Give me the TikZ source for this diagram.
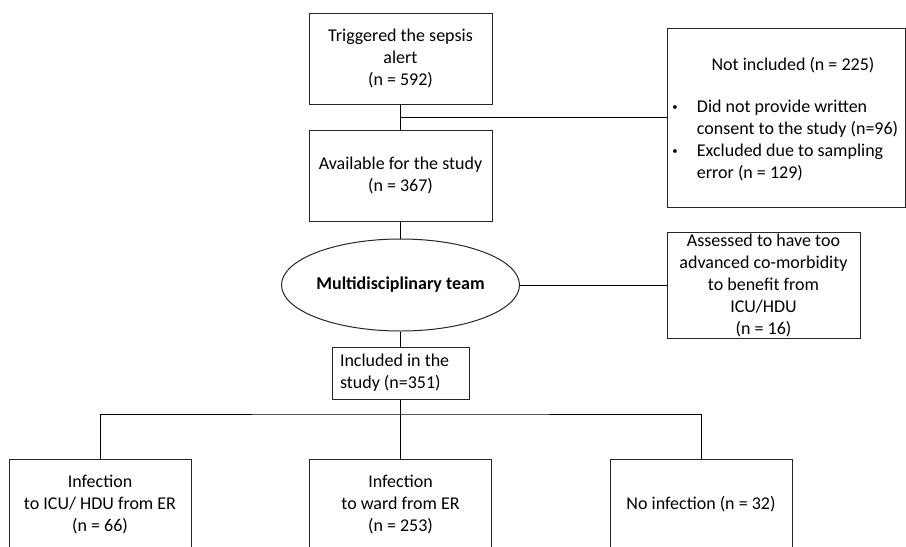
\documentclass[tikz,border=0pt]{standalone}
\usepackage{fontspec}
\setmainfont{Carlito}
\usepackage{tikz}
\usetikzlibrary{shapes.geometric}

\newcommand{\punto}{\raisebox{1.3pt}{\footnotesize\textbullet}}

\begin{document}
\begin{tikzpicture}[x=0.75pt, y=-0.75pt,
    caja/.style={draw=black!85, line width=0.75pt, align=center, inner sep=0pt,
        font=\fontsize{13.5}{16.5}\selectfont},
    elipse/.style={ellipse, draw=black!85, line width=0.75pt, inner sep=0pt,
        font=\fontsize{13.5}{16.5}\selectfont\bfseries},
    texto/.style={inner sep=0pt, font=\fontsize{13.5}{16.5}\selectfont},
    linea/.style={line width=0.75pt}]

    % Marco
    \useasboundingbox (0,0) rectangle (906,546);
    \clip (0,0) rectangle (906,546);

    % Flujo principal
    \node[caja, minimum width=137.25pt, minimum height=68.25pt] (alerta) at (400.5,58.5)
        {Triggered the sepsis\\alert\\(n = 592)};
    \node[caja, minimum width=137.25pt, minimum height=68.25pt] (disponible) at (400.5,175.5)
        {Available for the study\\(n = 367)};
    \node[elipse, minimum width=154.5pt, minimum height=69pt] (equipo) at (400.5,285)
        {Multidisciplinary team};
    \node[caja, minimum width=102.75pt, minimum height=39pt, text width=90.75pt, align=flush left] (incluidos) at (400.5,373)
        {Included in the\\study (n=351)};

    % Exclusiones
    \node[caja, minimum width=178.5pt, minimum height=134.25pt] (noincluidos) at (786,117.5) {};
    \node[texto] (titulo) at (793,65) {Not included (n = 225)};
    \node[texto, anchor=north west, align=left] (motivos) at (672,97) {%
        \begin{tabular}{@{}p{18.5pt}@{}l@{}}
            \punto & Did not provide written\\
                   & consent to the study (n=96)\\
            \punto & Excluded due to sampling\\
                   & error (n = 129)
        \end{tabular}};
    \node[caja, minimum width=144.75pt, minimum height=79.5pt] (comorbilidad) at (763.5,285)
        {Assessed to have too\\advanced co-morbidity\\to benefit from\\ICU/HDU\\(n = 16)};

    % Grupos finales
    \node[caja, minimum width=136.5pt, minimum height=68.25pt] (uci) at (100,504.5)
        {Infection\\to ICU/ HDU from ER\\(n = 66)};
    \node[caja, minimum width=136.5pt, minimum height=68.25pt] (sala) at (400.5,504.5)
        {Infection\\to ward from ER\\(n = 253)};
    \node[caja, minimum width=136.5pt, minimum height=68.25pt] (sininf) at (701,504.5)
        {No infection (n = 32)};

    % Conectores
    \draw[linea] (alerta) -- (disponible);
    \draw[linea] (alerta.south |- noincluidos.west) -- (noincluidos.west);
    \draw[linea] (disponible) -- (equipo);
    \draw[linea] (equipo) -- (comorbilidad);
    \draw[linea] (equipo) -- (incluidos);
    \coordinate (reparto) at (400.5,414);
    \draw[linea] (incluidos) -- (sala);
    \draw[linea] (uci.north) |- (reparto) -| (sininf.north);
\end{tikzpicture}
\end{document}
